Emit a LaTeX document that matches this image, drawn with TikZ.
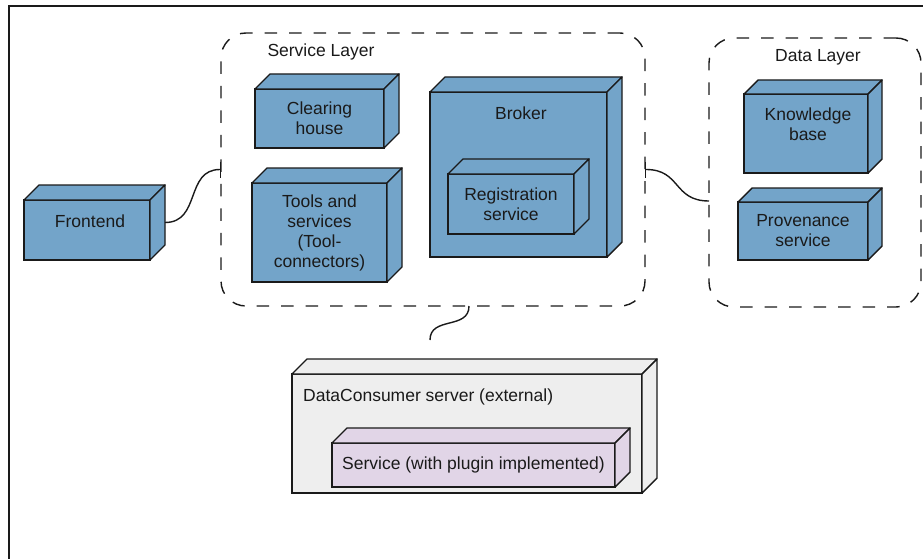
\documentclass[tikz,border=0pt]{standalone}
\usepackage{fontspec}
\setmainfont{Liberation Sans}
\usetikzlibrary{arrows.meta}

\definecolor{ink}{RGB}{26,26,26}
\definecolor{cubeblue}{RGB}{115,164,201}
\definecolor{cubegrey}{RGB}{238,238,238}
\definecolor{cubelilac}{RGB}{225,213,231}

% Top and side faces of a 3D box whose front face is node #1
% #1 node name, #2 fill colour, #3 depth of the extrusion
\newcommand\extrude[3]{%
  \filldraw[facestroke, fill=#2]
    (#1.north west) -- ++(#3,-#3) -- ([shift={(#3,-#3)}]#1.north east)
    -- (#1.north east) -- cycle;
  \filldraw[facestroke, fill=#2]
    (#1.north east) -- ++(#3,-#3) -- ([shift={(#3,-#3)}]#1.south east)
    -- (#1.south east) -- cycle;
}

% short bar where a connector meets a layer boundary
\tikzset{endtick/.tip={Bar[width=16pt, line width=1.4pt]}}

\begin{document}
\begin{tikzpicture}[x=1pt, y=-1pt,
  font=\fontsize{17.5}{20}\selectfont, text=ink,
  facestroke/.style={draw=ink, line width=1.4pt, line join=round},
  cube/.style={draw=ink, fill=#1, line width=1.4pt, inner sep=0pt,
    outer sep=0pt, align=center},
  layer/.style={draw=ink, line width=1.4pt, rounded corners=25pt,
    dash pattern=on 12.5pt off 12pt, inner sep=0pt, outer sep=0pt},
  boxtext/.style={inner sep=0pt, align=center},
  wire/.style={draw=ink, line width=1.4pt}
]
\useasboundingbox (0,0) rectangle (923,559);

% outer frame
\draw[ink, line width=2pt] (9,559) -- (9,6) -- (923,6);

% layers
\node[layer, minimum width=424pt, minimum height=273pt,
  label={[name=service-title, boxtext, anchor=center, xshift=100pt, yshift=-18.5pt]north west:Service Layer}]
  (service) at (433,169.5) {};
\node[layer, minimum width=212pt, minimum height=269pt,
  label={[name=data-title, boxtext, anchor=center, xshift=109pt, yshift=-19.5pt]north west:Data Layer}]
  (datalayer) at (815,172.5) {};

% frontend
\node[cube=cubeblue, minimum width=126pt, minimum height=60pt,
  label={[name=frontend-text, boxtext, anchor=center, xshift=3pt, yshift=9pt]center:Frontend}]
  (frontend) at (87,230) {};
\extrude{frontend}{cubeblue}{15}

% service layer boxes
\node[cube=cubeblue, minimum width=129pt, minimum height=59pt]
  (clearing) at (319.5,118.5) {Clearing\\house};
\extrude{clearing}{cubeblue}{15}

\node[cube=cubeblue, minimum width=135pt, minimum height=99pt]
  (tools) at (319.5,232.5) {Tools and\\services\\(Tool-\\connectors)};
\extrude{tools}{cubeblue}{15}

\node[cube=cubeblue, minimum width=177pt, minimum height=165pt,
  label={[name=broker-title, boxtext, anchor=center, xshift=2.5pt, yshift=-21pt]north:Broker}]
  (broker) at (518.5,174.5) {};
\extrude{broker}{cubeblue}{15}

\node[cube=cubeblue, minimum width=126pt, minimum height=60pt]
  (registration) at (511,204) {Registration\\service};
\extrude{registration}{cubeblue}{15}

% data layer boxes
\node[cube=cubeblue, minimum width=124pt, minimum height=79pt,
  label={[name=knowledge-text, boxtext, anchor=center, xshift=2pt, yshift=9.5pt]center:Knowledge\\base}]
  (knowledge) at (806,133.5) {};
\extrude{knowledge}{cubeblue}{14}

\node[cube=cubeblue, minimum width=130pt, minimum height=58pt]
  (provenance) at (803,231) {Provenance\\service};
\extrude{provenance}{cubeblue}{14}

% external consumer
\node[cube=cubegrey, minimum width=350pt, minimum height=119pt,
  label={[name=consumer-title, boxtext, anchor=west, xshift=11pt, yshift=-23pt]north west:DataConsumer server (external)}]
  (consumer) at (467,433.5) {};
\extrude{consumer}{cubegrey}{15}

\node[cube=cubelilac, minimum width=283pt, minimum height=44pt]
  (plugin) at (473.5,465) {Service (with plugin implemented)};
\extrude{plugin}{cubelilac}{15}

% connectors
\coordinate (consumer-link) at (430,340);

\draw[wire, -{endtick}] ([shift={(15,-7.5)}]frontend.east)
  .. controls +(36,0) and +(-36,0) .. (service.west);
\draw[wire, {endtick}-] (service.east)
  .. controls +(36,0) and +(-36,0) .. ([shift={(0,28.5)}]datalayer.west);
\draw[wire] ([shift={(36,0)}]service.south)
  .. controls +(0,24) and +(0,-24) .. (consumer-link);
\end{tikzpicture}
\end{document}
